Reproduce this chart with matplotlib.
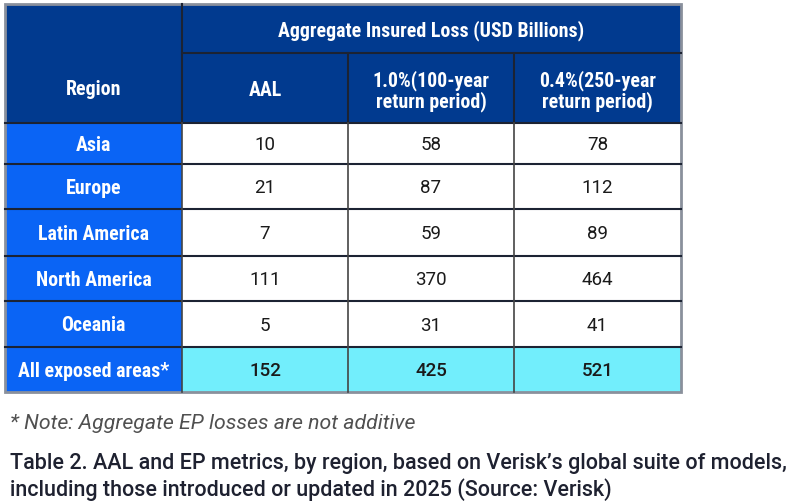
import matplotlib.pyplot as plt
from matplotlib import font_manager
from matplotlib.patches import Rectangle

# Table data
regions = ["Asia", "Europe", "Latin America", "North America", "Oceania", "All exposed areas*"]
aal = [10, 21, 7, 111, 5, 152]
loss_100 = [58, 87, 59, 370, 31, 425]
loss_250 = [78, 112, 89, 464, 41, 521]
col_heads = ["Region", "AAL", "1.0%(100-year\nreturn period)", "0.4%(250-year\nreturn period)"]
group_head = "Aggregate Insured Loss (USD Billions)"
note = "* Note: Aggregate EP losses are not additive"
caption = ("Table 2. AAL and EP metrics, by region, based on Verisk\u2019s global suite of models,\n"
           "including those introduced or updated in 2025 (Source: Verisk)")

# colours
navy = "#013a8f"
blue = "#0a64f5"
cyan = "#72eefc"
line = "#1c2333"


def pick(names):
    for n in names:
        try:
            font_manager.findfont(n, fallback_to_default=False)
            return n
        except Exception:
            pass
    return "DejaVu Sans"


head_font = pick(["Roboto Condensed", "Liberation Sans Narrow", "Roboto"])
body_font = pick(["Roboto", "DejaVu Sans"])

fig = plt.figure(figsize=(7.86, 5.02), dpi=100)
ax = fig.add_axes([0, 0, 1, 1])
ax.set_xlim(0, 786)
ax.set_ylim(502, 0)
ax.axis("off")

# layout (pixels)
xs = [5, 182, 348, 514, 681]
ys = [124, 165, 210, 257, 302, 348, 393]
top, mid = 5, 54

# header background
ax.add_patch(Rectangle((xs[0], top), xs[-1] - xs[0], ys[0] - top, fc=navy, ec="none"))
ax.plot([xs[1], xs[-1]], [mid, mid], color=line, lw=1.5)
for x in xs[1:-1]:
    ax.plot([x, x], [mid if x != xs[1] else top, ys[0]], color=line, lw=1.5)
ax.text((xs[1] + xs[-1]) / 2, (top + mid) / 2 + 1, group_head, color="white",
        fontsize=14.3, family=head_font, fontweight="semibold", ha="center", va="center")
for i, h in enumerate(col_heads):
    yc = (mid + ys[0]) / 2 + 2 if i > 0 else (top + ys[0]) / 2 + 25
    ax.text((xs[i] + xs[i + 1]) / 2, yc, h, color="white", fontsize=14.3,
            family=head_font, fontweight="semibold", ha="center", va="center",
            linespacing=1.0)

# body rows
n = len(regions)
for r in range(n):
    y0, y1 = ys[r], ys[r + 1]
    yc = (y0 + y1) / 2 + 1
    last = r == n - 1
    ax.add_patch(Rectangle((xs[0], y0), xs[1] - xs[0], y1 - y0, fc=blue, ec="none"))
    ax.add_patch(Rectangle((xs[1], y0), xs[-1] - xs[1], y1 - y0,
                           fc=cyan if last else "white", ec="none"))
    ax.text((xs[0] + xs[1]) / 2, yc, regions[r], color="white", fontsize=14.3,
            family=head_font, fontweight="semibold", ha="center", va="center")
    for c, vals in enumerate([aal, loss_100, loss_250]):
        ax.text((xs[c + 1] + xs[c + 2]) / 2, yc, str(vals[r]), color="#1a1a1a",
                fontsize=13.5, family=body_font, ha="center", va="center",
                fontweight="medium" if last else "normal")

# grid lines
for y in ys[:-1]:
    ax.plot([xs[0], xs[-1]], [y, y], color=line, lw=1.5)
for x in xs[1:-1]:
    ax.plot([x, x], [ys[0], ys[-1]], color="#444444", lw=1.2)
ax.add_patch(Rectangle((xs[0], top), xs[-1] - xs[0], ys[-1] - top, fc="none",
                       ec="#8a909c", lw=2))

# note and caption
ax.text(10, 424, note, color="#505050", fontsize=15.3, family=body_font,
        style="italic", ha="left", va="center")
ax.text(10, 477, caption, color="#1e2130", fontsize=15.5, family=body_font,
        fontweight="medium", ha="left", va="center", linespacing=1.25)

fig.savefig("out.png", dpi=100)
